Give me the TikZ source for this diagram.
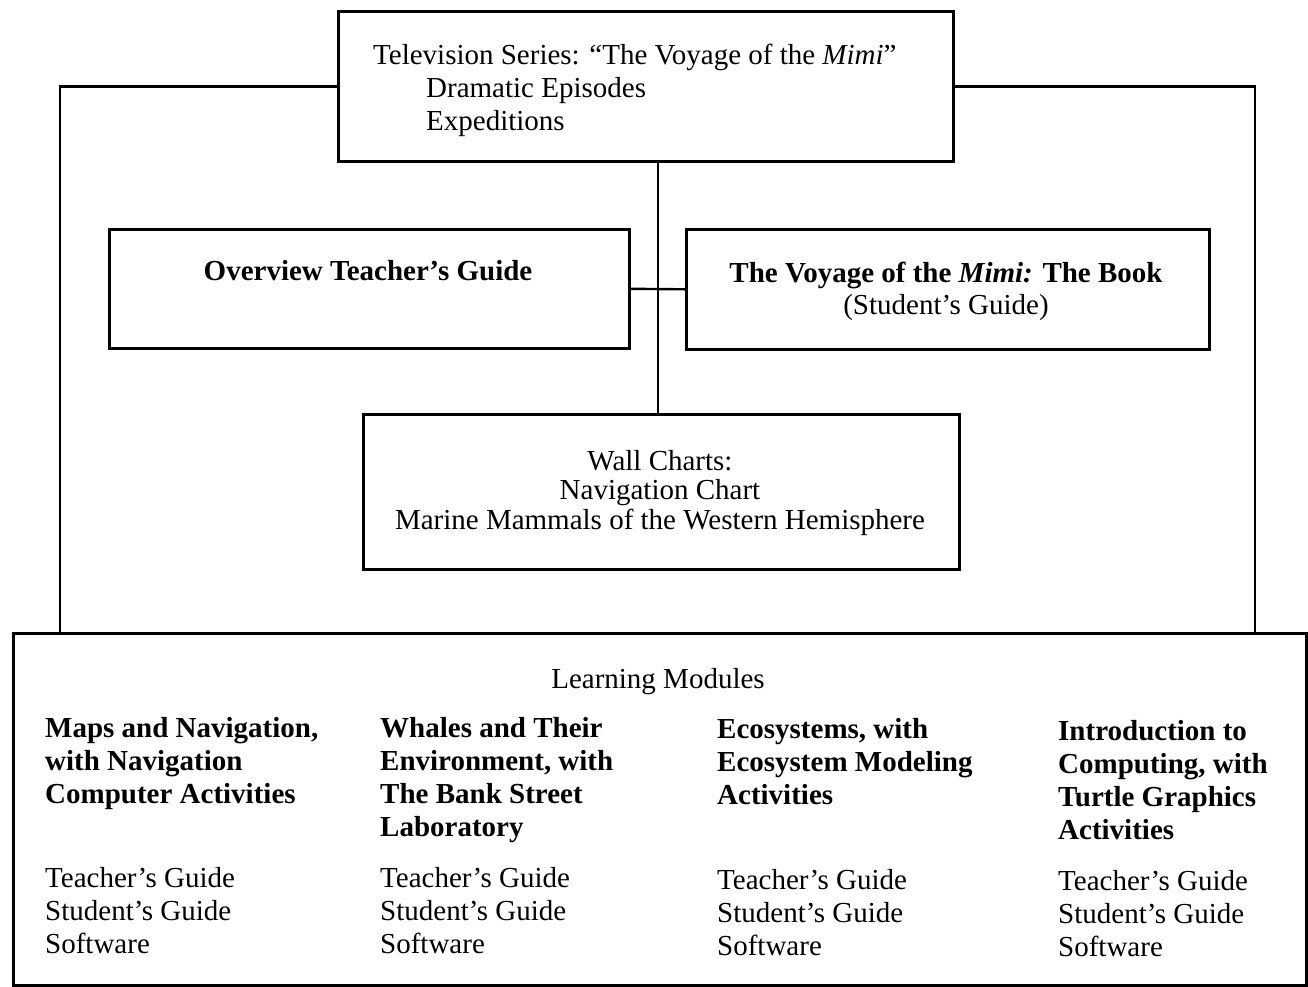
\documentclass[tikz,border=0pt]{standalone}
\usepackage{fontspec}
\setmainfont{Liberation Serif}
\newcommand\mfsz{\fontsize{29}{33}\selectfont}
\begin{document}
\begin{tikzpicture}[x=1pt,y=-1pt,
  box/.style={draw, line width=2.6pt, inner sep=0pt, anchor=north west},
  conn/.style={draw, line width=2.4pt},
  lnw/.style={font=\mfsz, inner sep=0pt, anchor=base west},
  lnbw/.style={font=\mfsz\bfseries, inner sep=0pt, anchor=base west},
  lnc/.style={font=\mfsz, inner sep=0pt, anchor=base},
  lnbc/.style={font=\mfsz\bfseries, inner sep=0pt, anchor=base}]
\useasboundingbox (0,0) rectangle (1308,986);
% boxes
\node[box, minimum width=615pt, minimum height=150pt] (tv) at (337,10) {};
\node[box, minimum width=520pt, minimum height=119pt] (ov) at (108,228) {};
\node[box, minimum width=523pt, minimum height=120pt] (bk) at (685,228) {};
\node[box, minimum width=596pt, minimum height=155pt] (wc) at (362,413) {};
\node[box, minimum width=1293pt, minimum height=352pt] (lm) at (12,632) {};
% connector helper coordinates
\coordinate (lx) at (60,0);
\coordinate (rx) at (1255,0);
\coordinate (cx) at (658,0);
\draw[conn] (tv.west) -| (lx |- lm.north);
\draw[conn] (tv.east) -| (rx |- lm.north);
\draw[conn] (cx |- tv.south) -- (cx |- wc.north);
\draw[conn] (ov.east) -- (bk.west);
% TV box text
\node[lnw] (tv1) at (373,64) {Television Series: “The Voyage of the \textit{Mimi}”};
\node[lnw] (tv2) at (426,97) {Dramatic Episodes};
\node[lnw] (tv3) at (426,130) {Expeditions};
% overview
\node[lnbc] (ov1) at (368,280) {Overview Teacher’s Guide};
% book
\node[lnbc] (bk1) at (946,282) {The Voyage of the \textit{Mimi:} The Book};
\node[lnc] (bk2) at (946,314) {(Student’s Guide)};
% wall charts
\node[lnc] (wc1) at (660,470) {Wall Charts:};
\node[lnc] (wc2) at (660,499) {Navigation Chart};
\node[lnc] (wc3) at (660,529) {Marine Mammals of the Western Hemisphere};
% learning modules
\node[lnc] (lm0) at (658,688) {Learning Modules};
% column 1
\node[lnbw] (a1) at (45,737) {Maps and Navigation,};
\node[lnbw] (a2) at (45,770) {with Navigation};
\node[lnbw] (a3) at (45,803) {Computer Activities};
\node[lnw] (a4) at (45,887) {Teacher’s Guide};
\node[lnw] (a5) at (45,920) {Student’s Guide};
\node[lnw] (a6) at (45,953) {Software};
% column 2
\node[lnbw] (b1) at (380,737) {Whales and Their};
\node[lnbw] (b2) at (380,770) {Environment, with};
\node[lnbw] (b3) at (380,803) {The Bank Street};
\node[lnbw] (b4) at (380,836) {Laboratory};
\node[lnw] (b5) at (380,887) {Teacher’s Guide};
\node[lnw] (b6) at (380,920) {Student’s Guide};
\node[lnw] (b7) at (380,953) {Software};
% column 3
\node[lnbw] (c1) at (717,738) {Ecosystems, with};
\node[lnbw] (c2) at (717,771) {Ecosystem Modeling};
\node[lnbw] (c3) at (717,804) {Activities};
\node[lnw] (c4) at (717,889) {Teacher’s Guide};
\node[lnw] (c5) at (717,922) {Student’s Guide};
\node[lnw] (c6) at (717,955) {Software};
% column 4
\node[lnbw] (d1) at (1058,740) {Introduction to};
\node[lnbw] (d2) at (1058,773) {Computing, with};
\node[lnbw] (d3) at (1058,806) {Turtle Graphics};
\node[lnbw] (d4) at (1058,839) {Activities};
\node[lnw] (d5) at (1058,890) {Teacher’s Guide};
\node[lnw] (d6) at (1058,923) {Student’s Guide};
\node[lnw] (d7) at (1058,956) {Software};
\end{tikzpicture}
\end{document}
